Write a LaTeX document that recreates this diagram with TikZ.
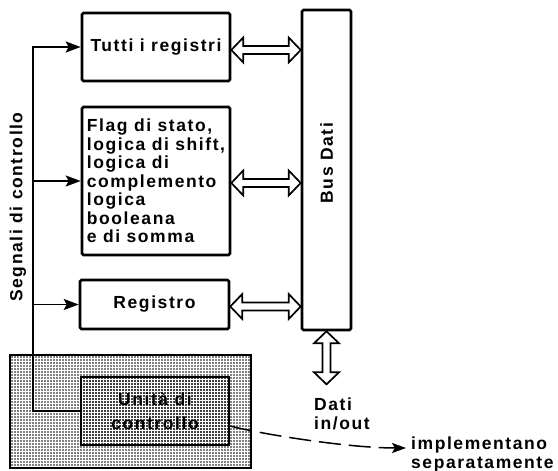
\documentclass[tikz,border=0pt]{standalone}
\usepackage{fontspec}
\setmainfont{Liberation Sans}[LetterSpace=9.0]
\usetikzlibrary{arrows.meta,calc,patterns}

% halftone dot screen for the control-unit panel
\pgfdeclarepatternformonly{halftone}{\pgfqpoint{-1pt}{-1pt}}{\pgfqpoint{1pt}{1pt}}{\pgfqpoint{3pt}{3pt}}{%
  \pgfpathcircle{\pgfqpoint{0pt}{0pt}}{0.78pt}\pgfusepath{fill}}

\tikzset{
  box/.style={draw, line width=2.6pt, rounded corners=1.5pt, inner sep=0pt},
  ctl/.style={line width=1.8pt, line join=miter,
    -{Stealth[length=15pt,width=11pt,inset=3pt]}},
  % hollow double-headed bus arrow between two points
  dbl/.style={draw, line width=1.7pt, fill=white, line join=miter, to path={
    let \p1=(\tikztostart), \p2=(\tikztotarget),
        \n1={atan2(\y2-\y1,\x2-\x1)}, \n2={veclen(\x2-\x1,\y2-\y1)} in
    {[shift={(\p1)}, rotate=\n1]
      (0pt,0pt) -- (12pt,12.5pt) -- (12pt,4pt) -- (\n2-12pt,4pt)
      -- (\n2-12pt,12.5pt) -- (\n2,0pt) -- (\n2-12pt,-12.5pt)
      -- (\n2-12pt,-4pt) -- (12pt,-4pt) -- (12pt,-12.5pt) -- cycle}}},
  lbl/.style={inner sep=0pt},
}

\begin{document}
\begin{tikzpicture}[x=1pt,y=-1pt,font=\fontsize{17.5}{18.5}\selectfont\bfseries]
\useasboundingbox (0,0) rectangle (558,471);

% control unit panel
\node (panel) [draw, line width=2.8pt, pattern=halftone, minimum width=241pt,
  minimum height=113pt, inner sep=0pt] at (130.5,411.5) {};

% functional blocks
\node (tutti) [box, minimum width=148pt, minimum height=68pt] at (156,47) {Tutti i registri};
\node (flag) [box, minimum width=148pt, minimum height=148pt, align=left] at (156,181)
  {Flag di stato,\\logica di shift,\\logica di\\complemento\\logica\\booleana\\e di somma};
\node (reg) [box, minimum width=149pt, minimum height=49pt] at (154.5,304.5) {Registro};
\node (bus) [box, minimum width=49pt, minimum height=320pt] at (326.5,170) {};
\node (buslbl) [lbl, rotate=90] at ([yshift=7pt]bus.center) {Bus Dati};

% control unit
\node (inner) [minimum width=148pt, minimum height=68pt, inner sep=0pt] at (155,411) {};

% control signals
\coordinate (trunk) at (33,0);
\node (sig) [lbl, rotate=90] at (18,207) {Segnali di controllo};
\draw[ctl] (inner.west) -| (trunk |- tutti.west) -- (tutti.west);
\draw[ctl] (trunk |- flag.west) -- (flag.west);
\draw[ctl] (trunk |- reg.west) -- (reg.west);

\node (cu) [draw, line width=2.8pt, pattern=halftone, minimum width=148pt,
  minimum height=68pt, inner sep=0pt, align=center] at (inner.center)
  {Unità di\\[5pt]controllo};

% data bus connections
\draw[dbl] ([yshift=-3pt]tutti.east) to ([yshift=-3pt]bus.west |- tutti.east);
\draw[dbl] ([yshift=-2pt]flag.east) to ([yshift=-2pt]bus.west |- flag.east);
\draw[dbl] ([yshift=-2pt]reg.east) to ([yshift=-2pt]bus.west |- reg.east);
\coordinate (io) at ([yshift=-53pt]bus.south);
\draw[dbl] (bus.south) to (io);
\node (dati) [lbl, anchor=north west, align=left] at (314,398) {Dati\\in/out};

% external note
\node (impl) [lbl, anchor=north west, align=left] at (411,437) {implementano\\separatamente};
\coordinate (tipend) at ([shift={(-5pt,-11pt)}]impl.north west);
\draw[line width=1.5pt, dash pattern=on 22pt off 8pt,
  -{Stealth[length=14pt,width=10pt,inset=3pt]}]
  ([yshift=-15pt]cu.east) .. controls +(25pt,-7pt) and +(-60pt,0pt) .. (tipend);
\end{tikzpicture}
\end{document}
